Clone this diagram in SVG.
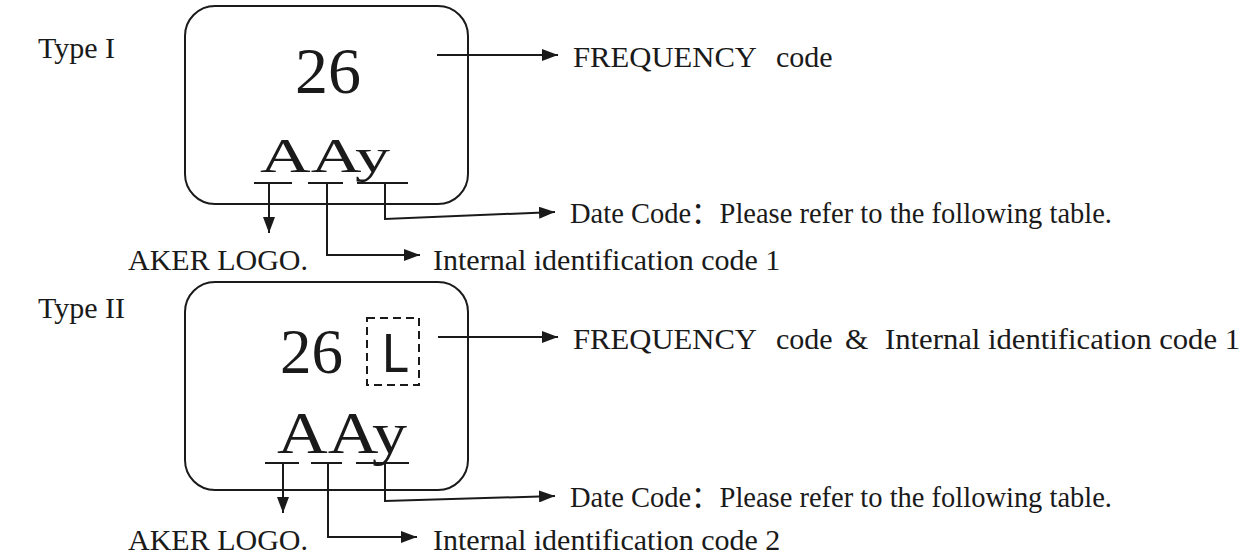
<svg xmlns="http://www.w3.org/2000/svg" width="1250" height="558" viewBox="0 0 1250 558">
<style>
text{font-family:"Liberation Serif","Noto Sans CJK SC",serif;fill:#1a1a1a}
.lbl{font-size:30px}
.box{fill:none;stroke:#1a1a1a;stroke-width:2}
.ln{fill:none;stroke:#1a1a1a;stroke-width:2}
.arr{fill:none;stroke:#1a1a1a;stroke-width:2;marker-end:url(#ah)}
</style>
<defs>
<marker id="ah" viewBox="0 0 16 12" refX="16" refY="6" markerWidth="16" markerHeight="12" markerUnits="userSpaceOnUse" orient="auto">
<path d="M0,0 L16,6 L0,12 z" fill="#1a1a1a"/>
</marker>
</defs>
<rect width="1250" height="558" fill="#fff"/>

<g id="type1-label"><text class="lbl" x="38" y="58">Type I</text></g>
<g id="type2-label"><text class="lbl" x="38" y="318">Type II</text></g>

<g id="chip1">
<rect class="box" x="185" y="6" width="283" height="198" rx="30" ry="30"/>
<text x="295" y="93" font-size="66">26</text>
<text x="260" y="172" font-size="48" textLength="130" lengthAdjust="spacingAndGlyphs">AAy</text>
<path class="ln" d="M254,183H292M308,183H343M357,183H408"/>
</g>

<g id="chip2">
<rect class="box" x="185" y="282" width="283" height="208" rx="30" ry="30"/>
<text x="280" y="373" font-size="63">26</text>
<rect x="367" y="318" width="52" height="67" fill="none" stroke="#1a1a1a" stroke-width="2" stroke-dasharray="8,5"/>
<text x="381" y="372" font-size="53" style="font-family:'Noto Sans',sans-serif">L</text>
<text x="277" y="453" font-size="60" textLength="130" lengthAdjust="spacingAndGlyphs">AAy</text>
<path class="ln" d="M265,463H299M311,463H342M356,463H409"/>
</g>

<g id="freq1"><text class="lbl" x="573" y="67" textLength="184" lengthAdjust="spacingAndGlyphs">FREQUENCY</text><text class="lbl" x="776" y="67">code</text></g>
<g id="date1"><text class="lbl" x="570" y="223" textLength="542" lengthAdjust="spacingAndGlyphs">Date Code：Please refer to the following table.</text></g>
<g id="logo1"><text class="lbl" x="128" y="270">AKER LOGO.</text></g>
<g id="iic1"><text class="lbl" x="433" y="270">Internal identification code 1</text></g>

<g id="freq2"><text class="lbl" x="573" y="349" textLength="184" lengthAdjust="spacingAndGlyphs">FREQUENCY</text><text class="lbl" x="776" y="349">code</text><text class="lbl" x="845" y="349">&amp;</text><text class="lbl" x="885" y="349" textLength="355" lengthAdjust="spacingAndGlyphs">Internal identification code 1</text></g>
<g id="date2"><text class="lbl" x="570" y="507" textLength="542" lengthAdjust="spacingAndGlyphs">Date Code：Please refer to the following table.</text></g>
<g id="logo2"><text class="lbl" x="128" y="550">AKER LOGO.</text></g>
<g id="iic2"><text class="lbl" x="433" y="550">Internal identification code 2</text></g>

<g id="connectors">
<path class="arr" d="M437,55H558"/>
<path class="arr" d="M269,183V233"/>
<path class="arr" d="M327,183V255H420"/>
<path class="arr" d="M385,183V219L555,212"/>
<path class="arr" d="M438,337H558"/>
<path class="arr" d="M283,463V513"/>
<path class="arr" d="M328,463V537H417"/>
<path class="arr" d="M385,463V501L555,496"/>
</g>
</svg>
